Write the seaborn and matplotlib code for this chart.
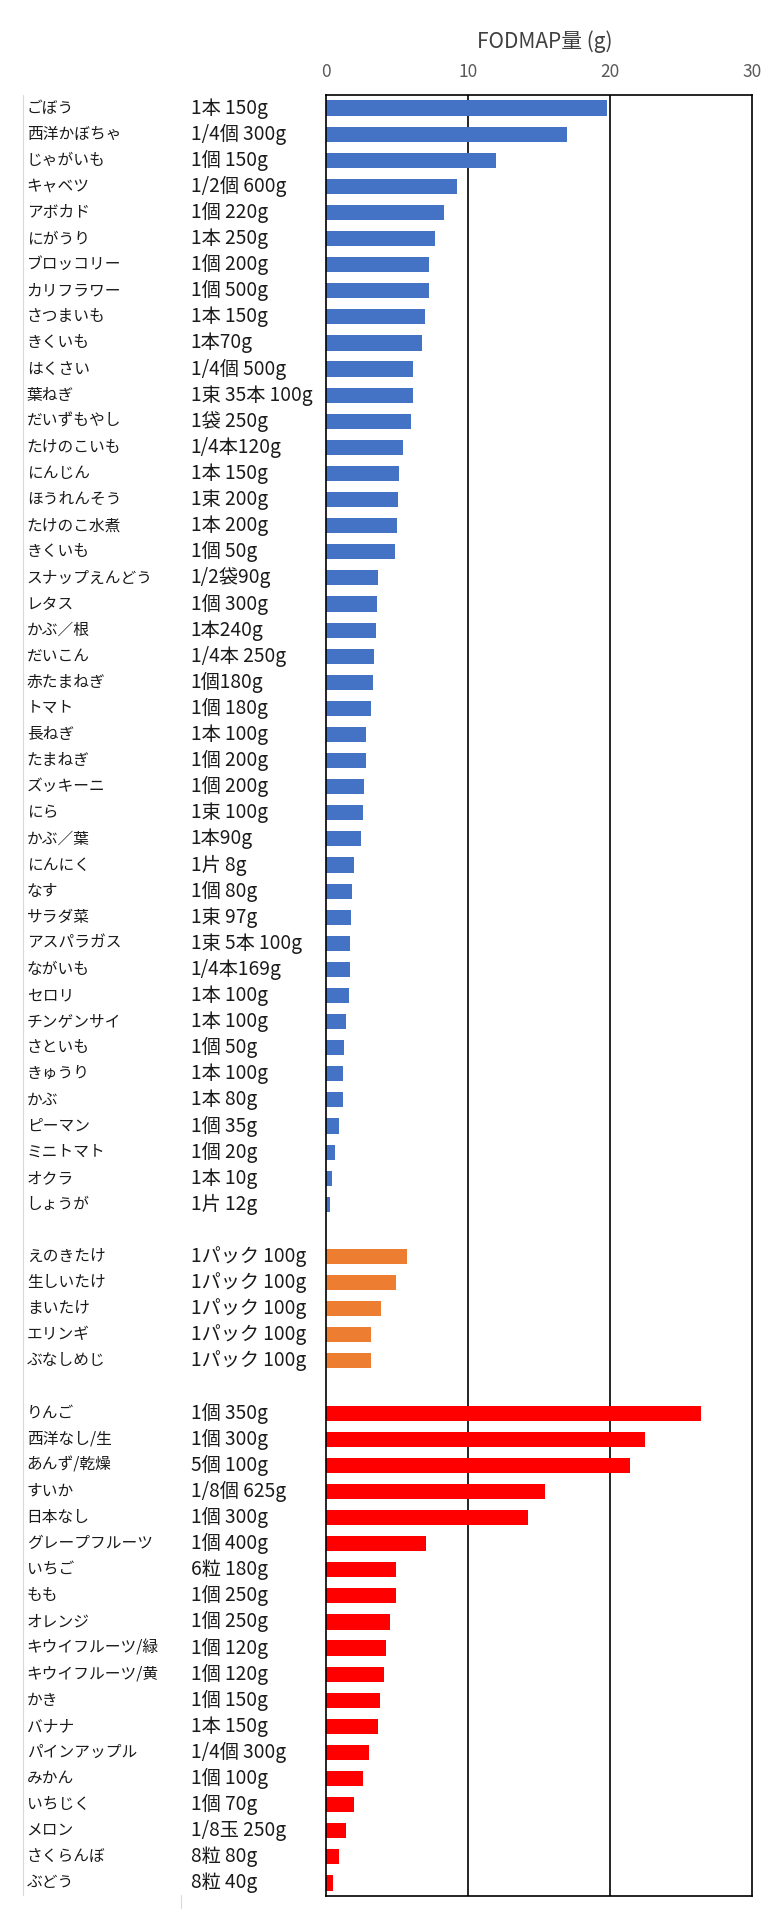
import pandas as pd
import matplotlib.pyplot as plt
from matplotlib.lines import Line2D
from matplotlib.transforms import blended_transform_factory
import seaborn as sns

# vegetables
veg_names = ['ごぼう', '西洋かぼちゃ', 'じゃがいも', 'キャベツ', 'アボカド', 'にがうり',
             'ブロッコリー', 'カリフラワー', 'さつまいも', 'きくいも', 'はくさい', '葉ねぎ',
             'だいずもやし', 'たけのこいも', 'にんじん', 'ほうれんそう', 'たけのこ水煮', 'きくいも',
             'スナップえんどう', 'レタス', 'かぶ／根', 'だいこん', '赤たまねぎ', 'トマト',
             '長ねぎ', 'たまねぎ', 'ズッキーニ', 'にら', 'かぶ／葉', 'にんにく', 'なす',
             'サラダ菜', 'アスパラガス', 'ながいも', 'セロリ', 'チンゲンサイ', 'さといも',
             'きゅうり', 'かぶ', 'ピーマン', 'ミニトマト', 'オクラ', 'しょうが']
veg_qty = ['1本 150g', '1/4個 300g', '1個 150g', '1/2個 600g', '1個 220g', '1本 250g',
           '1個 200g', '1個 500g', '1本 150g', '1本70g', '1/4個 500g', '1束 35本 100g',
           '1袋 250g', '1/4本120g', '1本 150g', '1束 200g', '1本 200g', '1個 50g',
           '1/2袋90g', '1個 300g', '1本240g', '1/4本 250g', '1個180g', '1個 180g',
           '1本 100g', '1個 200g', '1個 200g', '1束 100g', '1本90g', '1片 8g', '1個 80g',
           '1束 97g', '1束 5本 100g', '1/4本169g', '1本 100g', '1本 100g', '1個 50g',
           '1本 100g', '1本 80g', '1個 35g', '1個 20g', '1本 10g', '1片 12g']
veg_vals = [19.8, 17.0, 12.0, 9.2, 8.3, 7.65, 7.28, 7.25, 6.95, 6.76, 6.15, 6.1,
            6.0, 5.4, 5.14, 5.1, 5.0, 4.84, 3.64, 3.59, 3.52, 3.38, 3.33, 3.15,
            2.84, 2.84, 2.7, 2.58, 2.46, 1.95, 1.83, 1.76, 1.69, 1.69, 1.64, 1.39,
            1.27, 1.2, 1.2, 0.89, 0.63, 0.45, 0.26]

# mushrooms
mush_names = ['えのきたけ', '生しいたけ', 'まいたけ', 'エリンギ', 'ぶなしめじ']
mush_qty = ['1パック 100g'] * 5
mush_vals = [5.7, 4.9, 3.9, 3.19, 3.19]

# fruits
fruit_names = ['りんご', '西洋なし/生', 'あんず/乾燥', 'すいか', '日本なし', 'グレープフルーツ',
               'いちご', 'もも', 'オレンジ', 'キウイフルーツ/緑', 'キウイフルーツ/黄', 'かき',
               'バナナ', 'パインアップル', 'みかん', 'いちじく', 'メロン', 'さくらんぼ', 'ぶどう']
fruit_qty = ['1個 350g', '1個 300g', '5個 100g', '1/8個 625g', '1個 300g', '1個 400g',
             '6粒 180g', '1個 250g', '1個 250g', '1個 120g', '1個 120g', '1個 150g',
             '1本 150g', '1/4個 300g', '1個 100g', '1個 70g', '1/8玉 250g', '8粒 80g', '8粒 40g']
fruit_vals = [26.4, 22.45, 21.4, 15.4, 14.27, 7.02, 4.95, 4.9, 4.5, 4.2, 4.08, 3.82,
              3.64, 3.0, 2.63, 2.0, 1.39, 0.89, 0.51]

colors = {'野菜': '#4472C4', 'きのこ': '#ED7D31', '果物': '#FF0000'}

rows = []
for grp, names, qtys, vals in [('野菜', veg_names, veg_qty, veg_vals),
                               ('きのこ', mush_names, mush_qty, mush_vals),
                               ('果物', fruit_names, fruit_qty, fruit_vals)]:
    for n, q, v in zip(names, qtys, vals):
        rows.append({'key': n + '|' + q, 'name': n, 'qty': q, 'value': v, 'group': grp})
df = pd.DataFrame(rows)

# empty rows between the groups
order = (list(df.loc[df.group == '野菜', 'key']) + ['gap1']
         + list(df.loc[df.group == 'きのこ', 'key']) + ['gap2']
         + list(df.loc[df.group == '果物', 'key']))

sns.set_theme(style='white')
plt.rcParams['font.family'] = ['Noto Sans CJK JP', 'DejaVu Sans']

fig = plt.figure(figsize=(7.83, 19.2), dpi=100)
ax = fig.add_axes([326 / 783, 1 - 1896 / 1920, (751.7 - 326) / 783, (1896 - 95) / 1920])

sns.barplot(data=df, x='value', y='key', hue='group', order=order, palette=colors,
            dodge=False, saturation=1, width=0.58, linewidth=0, legend=False, ax=ax)

ax.set_xlim(0, 30)
ax.set_ylim(len(order) - 0.5, -0.5)
ax.set_xticks([0, 10, 20, 30])
ax.xaxis.tick_top()
ax.tick_params(axis='x', length=0, pad=10, labelsize=12.5, labelcolor='#595959')
ax.set_yticks([])
ax.set_ylabel('')
ax.xaxis.set_label_position('top')
ax.set_xlabel('FODMAP量 (g)', fontsize=15, color='#404040')
ax.xaxis.set_label_coords(0.514, 1.0296)
ax.xaxis.label.set_va('center')

for x in [10, 20]:
    ax.axvline(x, color='black', linewidth=1.2, zorder=0)
for s in ax.spines.values():
    s.set_visible(True)
    s.set_color('black')
    s.set_linewidth(1.2)

# left label columns
tr = blended_transform_factory(fig.transFigure, ax.transData)
for i, k in enumerate(order):
    if k.startswith('gap'):
        continue
    name, qty = k.split('|')
    ax.text(26.7 / 783, i, name, transform=tr, va='center', ha='left', fontsize=11.3, color='#1a1a1a')
    ax.text(190.7 / 783, i, qty, transform=tr, va='center', ha='left', fontsize=13.8, color='#1a1a1a')

# faint table border on the left
fig.add_artist(Line2D([22.7 / 783, 22.7 / 783], [1 - 95 / 1920, 1 - 1895 / 1920],
                      color='#d9d9d9', linewidth=0.8))
fig.add_artist(Line2D([181 / 783, 181 / 783], [1 - 1895 / 1920, 1 - 1908 / 1920],
                      color='#d9d9d9', linewidth=0.8))

fig.savefig('out.png', dpi=100)
